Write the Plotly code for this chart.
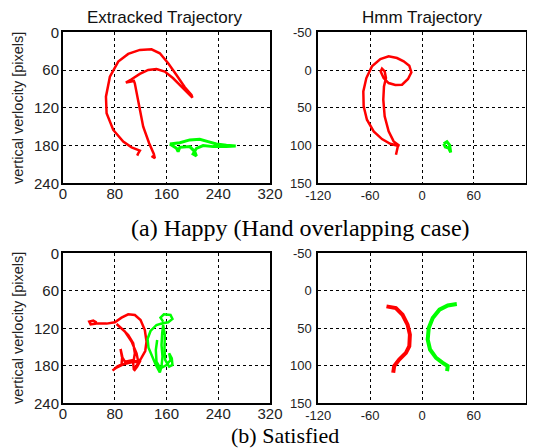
import plotly.graph_objects as go

# ---------------- data ----------------
# (a) Happy - extracted trajectory (x: 0..320, y: 0..240 pixels)
happy_ext_red_x = [136.8, 142.0, 140.4, 133.2, 124.0, 117.8, 113.7, 111.0, 109.6, 97.2, 106.0, 118.8, 131.7, 144.5,
                   157.4, 170.3, 183.1, 193.4, 200.1, 198.6, 188.3, 175.4, 162.6, 149.7, 136.8, 118.8, 100.8, 85.4,
                   72.5, 66.4, 67.4, 77.7, 93.1, 106.0, 113.7, 118.8, 116.3, 114.7]
happy_ext_red_y = [196.6, 200.3, 193.4, 176.4, 150.0, 118.0, 91.7, 81.0, 77.4, 80.0, 74.7, 66.2, 59.9, 58.3,
                   62.5, 73.1, 86.4, 97.0, 103.8, 99.6, 87.4, 67.8, 49.3, 33.4, 27.0, 28.0, 34.4, 46.6,
                   70.5, 102.3, 128.7, 155.2, 173.8, 182.8, 186.0, 188.0, 192.3, 196.0]
happy_ext_green_x = [165.1, 180.6, 196.0, 211.4, 224.3, 237.1, 252.6, 267.0, 252.6, 232.0, 216.6, 206.3, 201.1,
                     206.3, 203.7, 196.0, 180.6, 178.0, 175.4, 167.7, 165.1]
happy_ext_green_y = [177.5, 175.4, 171.0, 170.0, 173.8, 177.5, 179.6, 180.7, 181.7, 181.7, 180.0, 184.4, 193.4,
                     196.6, 189.7, 181.7, 182.8, 189.7, 184.4, 180.0, 177.5]

# (a) Happy - HMM trajectory (x: -120..120, y: -50..150)
happy_hmm_red_x = [-30.1, -28.9, -27.8, -32.8, -26.2, -32.8, -38.6, -43.2, -44.8, -44.0, -41.7, -43.2, -46.3,
                   -47.8, -44.4, -38.6, -30.9, -23.1, -16.2, -12.3, -14.7, -21.2, -28.9, -38.6, -48.2, -57.9,
                   -64.4, -67.9, -67.5, -63.7, -55.9, -46.3, -36.7, -27.8]
happy_hmm_red_y = [112.1, 104.6, 100.2, 98.9, 100.2, 94.5, 81.2, 61.4, 39.3, 21.6, 10.6, 1.8, -1.8,
                   1.8, 10.6, 17.2, 19.9, 19.4, 11.9, 3.1, -5.7, -11.5, -15.9, -18.1, -14.6, -4.9,
                   10.6, 28.3, 48.1, 65.8, 81.2, 91.4, 97.6, 100.2]
happy_hmm_green_x = [25.1, 28.9, 32.0, 33.2, 30.9, 27.0, 25.1]
happy_hmm_green_y = [97.6, 94.9, 99.3, 109.1, 103.3, 102.0, 97.6]

# (b) Satisfied - extracted trajectory
sat_ext_red_x = [52.0, 46.8, 40.6, 42.7, 52.0, 67.4, 80.2, 90.5, 100.8, 111.1, 119.9, 126.5, 129.1, 127.1,
                 121.4, 114.7, 109.6, 108.5, 111.1, 108.5, 100.8, 90.5, 82.8, 95.7, 106.0, 113.7, 116.3,
                 106.0, 93.1, 82.8, 76.6, 83.8, 90.5, 91.6, 89.0, 91.0, 95.7, 108.5, 118.8, 114.7, 109.6]
sat_ext_red_y = [110.9, 107.7, 109.3, 113.6, 112.5, 112.5, 110.4, 102.9, 97.6, 98.7, 106.7, 122.7, 141.3, 156.3,
                 166.9, 177.6, 186.7, 176.0, 160.0, 144.0, 130.7, 120.0, 113.1, 125.3, 141.3, 160.0, 173.3,
                 174.4, 177.6, 182.9, 187.7, 181.3, 177.6, 165.3, 153.1, 165.3, 173.3, 170.7, 173.3, 181.3, 188.3]
sat_ext_green_x = [154.8, 150.7, 155.9, 166.2, 169.2, 162.6, 153.8, 144.5, 135.3, 130.7, 132.2, 137.3, 143.5,
                   149.7, 152.3, 153.8, 152.3, 153.3, 154.8, 157.4, 156.9, 157.9, 164.1, 169.2, 168.2, 164.1,
                   166.2, 160.0, 150.7, 144.5, 143.5, 145.6]
sat_ext_green_y = [109.3, 102.9, 97.6, 98.7, 105.1, 110.4, 112.0, 114.7, 124.3, 137.1, 150.9, 163.7, 178.7,
                   190.4, 181.3, 165.3, 146.7, 128.0, 114.7, 130.7, 152.0, 170.7, 181.3, 178.7, 168.0, 160.0,
                   170.7, 178.7, 184.0, 173.3, 154.7, 138.7]

# (b) Satisfied - HMM trajectory
sat_hmm_red_x = [-41.1, -30.2, -22.5, -16.7, -14.0, -14.7, -18.6, -26.4, -32.2, -33.3]
sat_hmm_red_y = [20.8, 23.0, 31.9, 45.1, 58.4, 73.9, 82.7, 91.6, 100.4, 109.3]
sat_hmm_green_x = [40.3, 29.8, 20.2, 12.4, 7.8, 6.6, 9.3, 16.3, 24.0, 29.8, 29.0]
sat_hmm_green_y = [17.7, 19.5, 25.2, 36.3, 49.6, 65.0, 78.3, 89.4, 96.0, 100.4, 107.1]

# axis ticks
ext_x_ticks = [0, 80, 160, 240, 320]
ext_y_ticks = [0, 60, 120, 180, 240]
hmm_x_ticks = [-120, -60, 0, 60, 120]
hmm_x_labels = ["-120", "-60", "0", "60", "120"]
hmm_y_ticks = [-50, 0, 50, 100, 150]
hmm_y_labels = ["-50", "0", "50", "100", "150"]

titles = ["Extracked Trajectory", "Hmm Trajectory"]
y_title = "vertical verlocity [pixels]"
captions = ["(a) Happy (Hand overlapping case)", "(b) Satisfied"]

# ---------------- figure ----------------
# the page body has an 8px margin, so the figure starts 8px in from the window edge
OFF = 8
W, H = 535 - OFF, 448 - OFF
RED = "#ff0000"
GREEN = "#00ff00"

fig = go.Figure()

def add(x, y, color, xa, ya, width=2.5):
    fig.add_trace(go.Scatter(x=x, y=y, mode="lines", line=dict(color=color, width=width),
                             xaxis=xa, yaxis=ya, showlegend=False, hoverinfo="skip"))

add(happy_ext_red_x, happy_ext_red_y, RED, "x", "y")
add(happy_ext_green_x, happy_ext_green_y, GREEN, "x", "y", 3)
add(happy_hmm_red_x, happy_hmm_red_y, RED, "x2", "y2")
add(happy_hmm_green_x, happy_hmm_green_y, GREEN, "x2", "y2", 3)
add(sat_ext_red_x, sat_ext_red_y, RED, "x3", "y3")
add(sat_ext_green_x, sat_ext_green_y, GREEN, "x3", "y3")
add(sat_hmm_red_x, sat_hmm_red_y, RED, "x4", "y4", 4)
add(sat_hmm_green_x, sat_hmm_green_y, GREEN, "x4", "y4", 4)

def px(a):
    return (a - OFF) / W

def py(a):
    return 1 - (a - OFF) / H

xl = [px(63), px(270)]
xr = [px(318.3), px(525.7)]
yt = [py(183.3), py(32.3)]
yb = [py(403.3), py(253.3)]

common = dict(showline=True, mirror=True, linecolor="black", linewidth=2,
              showgrid=True, gridcolor="black", gridwidth=1, griddash="dot",
              zeroline=False, ticks="", fixedrange=True, automargin=False)
font_l = dict(family="Liberation Sans, Arial, sans-serif", size=15, color="#222")
font_r = dict(family="Liberation Sans, Arial, sans-serif", size=13, color="#222")

def ext_axes(xname, yname, xd, yd, anchor_x, anchor_y):
    fig.layout[xname] = dict(common, domain=xd, range=[0, 320], tickvals=ext_x_ticks,
                             anchor=anchor_y, tickfont=font_l, ticklabelstandoff=-4)
    fig.layout[yname] = dict(common, domain=yd, range=[240, 0], tickvals=ext_y_ticks,
                             anchor=anchor_x, tickfont=font_l, ticklabelstandoff=-1)

def hmm_axes(xname, yname, xd, yd, anchor_x, anchor_y):
    fig.layout[xname] = dict(common, domain=xd, range=[-120, 120], tickvals=hmm_x_ticks,
                             ticktext=hmm_x_labels, anchor=anchor_y, tickfont=font_r, ticklabelstandoff=-1)
    fig.layout[yname] = dict(common, domain=yd, range=[150, -50], tickvals=hmm_y_ticks,
                             ticktext=hmm_y_labels, anchor=anchor_x, tickfont=font_r, ticklabelstandoff=2)

ext_axes("xaxis", "yaxis", xl, yt, "x", "y")
hmm_axes("xaxis2", "yaxis2", xr, yt, "x2", "y2")
ext_axes("xaxis3", "yaxis3", xl, yb, "x3", "y3")
hmm_axes("xaxis4", "yaxis4", xr, yb, "x4", "y4")

ann = []
title_font = dict(family="Liberation Sans, Arial, sans-serif", size=17, color="#111")
ann.append(dict(text=titles[0], x=px(164.5), y=py(17), xref="paper", yref="paper",
                showarrow=False, font=title_font, xanchor="center", yanchor="middle"))
ann.append(dict(text=titles[1], x=px(421.5), y=py(17), xref="paper", yref="paper",
                showarrow=False, font=title_font, xanchor="center", yanchor="middle"))
yt_font = dict(family="Liberation Sans, Arial, sans-serif", size=14.5, color="#222")
for cy in (108, 328):
    ann.append(dict(text=y_title, x=px(18), y=py(cy), xref="paper", yref="paper",
                    showarrow=False, font=yt_font, textangle=-90, xanchor="center", yanchor="middle"))
cap_font = dict(family="Liberation Serif, Times New Roman, serif", size=24, color="#000")
ann.append(dict(text=captions[0], x=px(300), y=py(228), xref="paper", yref="paper",
                showarrow=False, font=cap_font, xanchor="center", yanchor="middle"))
cap_font_b = dict(family="Liberation Serif, Times New Roman, serif", size=22, color="#000")
ann.append(dict(text=captions[1], x=px(285), y=py(435.5), xref="paper", yref="paper",
                showarrow=False, font=cap_font_b, xanchor="center", yanchor="middle", borderpad=0))

fig.update_layout(template="none", width=W, height=H,
                  margin=dict(l=0, r=0, t=0, b=0, pad=0, autoexpand=False),
                  paper_bgcolor="white", plot_bgcolor="white", annotations=ann,
                  showlegend=False)

fig.write_html("out.html", config={"displayModeBar": False})
